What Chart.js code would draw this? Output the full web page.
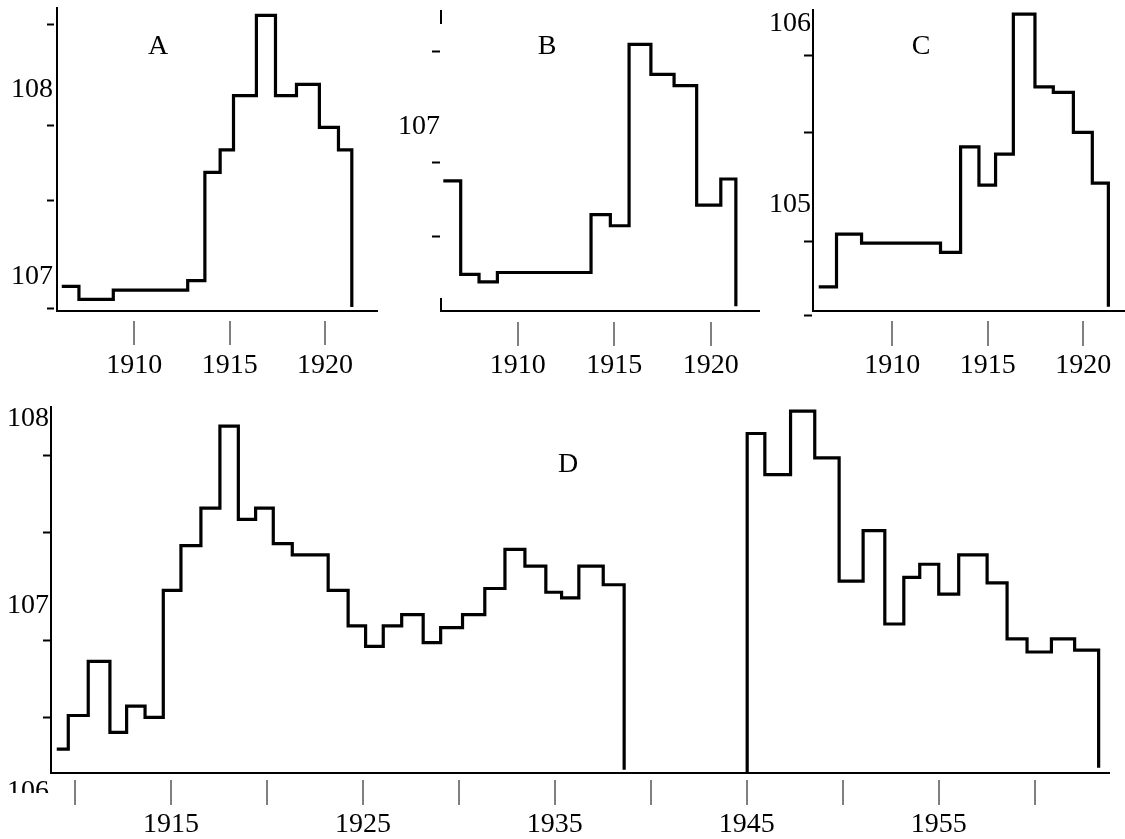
<!DOCTYPE html>
<html>
<head>
<meta charset="utf-8">
<script src="https://cdn.jsdelivr.net/npm/chart.js@4/dist/chart.umd.min.js"></script>
<style>
  body { margin: 0; background: #fff; }
  #wrap { position: relative; width: 1125px; height: 839px; overflow: hidden; }
  canvas { position: absolute; }
  .tag { position: absolute; font-family: 'Liberation Serif', 'Times New Roman', serif; font-size: 28px; line-height: 1; transform: translate(-50%, -50%); color: #000; }
</style>
</head>
<body>
<div id="wrap">
  <canvas id="chartA" width="380" height="395" style="left:0;top:0"></canvas>
  <canvas id="chartB" width="380" height="395" style="left:380px;top:0"></canvas>
  <canvas id="chartC" width="365" height="395" style="left:760px;top:0"></canvas>
  <canvas id="chartD" width="1125" height="444" style="left:0;top:395px"></canvas>
  <div class="tag" style="left:158px;top:45px">A</div>
  <div class="tag" style="left:547px;top:45px">B</div>
  <div class="tag" style="left:921px;top:45px">C</div>
  <div class="tag" style="left:568px;top:463px">D</div>
</div>
<script>
// step boundaries (years) and the level held between them
const aYears = [1906.2, 1907.1, 1908.9, 1912.8, 1913.7, 1914.5, 1915.2, 1916.4, 1917.4, 1918.5, 1919.7, 1920.7, 1921.4]
const aValues = [106.95, 106.88, 106.93, 106.98, 107.56, 107.68, 107.97, 108.40, 107.97, 108.03, 107.80, 107.68]
const aEnd = 106.84

const bYears = [1906.15, 1907.05, 1908.0, 1908.95, 1913.8, 1914.8, 1915.77, 1916.9, 1918.1, 1919.27, 1920.52, 1921.3]
const bValues = [106.71, 106.21, 106.17, 106.22, 106.53, 106.47, 107.44, 107.28, 107.22, 106.58, 106.72]
const bEnd = 106.04

const cYears = [1906.16, 1907.09, 1908.4, 1912.53, 1913.58, 1914.54, 1915.41, 1916.34, 1917.47, 1918.43, 1919.48, 1920.47, 1921.31]
const cValues = [104.55, 104.84, 104.79, 104.74, 105.32, 105.11, 105.28, 106.05, 105.65, 105.62, 105.40, 105.12]
const cEnd = 104.44

const dYears1 = [1909.05, 1909.65, 1910.69, 1911.82, 1912.69, 1913.65, 1914.6, 1915.52, 1916.56, 1917.55,
  1918.51, 1919.41, 1920.33, 1921.32, 1923.19, 1924.23, 1925.14, 1926.06, 1927.02, 1928.14,
  1929.05, 1930.19, 1931.35, 1932.4, 1933.44, 1934.53, 1935.35, 1936.25, 1937.52, 1938.61]
const dValues1 = [106.23, 106.41, 106.70, 106.32, 106.46, 106.40, 107.08, 107.32, 107.52, 107.96,
  107.46, 107.52, 107.33, 107.27, 107.08, 106.89, 106.78, 106.89, 106.95, 106.80,
  106.88, 106.95, 107.09, 107.30, 107.21, 107.07, 107.04, 107.21, 107.11]
const dEnd1 = 106.12

const dYears2 = [1945.02, 1945.94, 1947.28, 1948.54, 1949.81, 1951.06, 1952.19, 1953.18, 1954.01, 1955.0,
  1956.04, 1957.52, 1958.56, 1959.6, 1960.87, 1962.08, 1963.33]
const dValues2 = [107.92, 107.70, 108.04, 107.79, 107.13, 107.40, 106.90, 107.15, 107.22, 107.06,
  107.27, 107.12, 106.82, 106.75, 106.82, 106.76]
const dStart2 = 106.102
const dEnd2 = 106.13

// axis ticks
const topXTicks = [1910, 1915, 1920]
const dXTicks = [1910, 1915, 1920, 1925, 1930, 1935, 1940, 1945, 1950, 1955, 1960]
const dXLabels = [1915, 1925, 1935, 1945, 1955]

const aYTicks = [106.83, 107.41, 107.81, 108.35]
const aYLabels = [107, 108]
const bYTicks = [106.41, 106.81, 107.40]
const bYLabels = [107]
const cYTicks = [104.39, 104.80, 105.40, 105.82]
const cYLabels = [105, 106]
const dYTicks = [106.40, 106.81, 107.39, 107.80]
const dYLabels = [106, 107, 108]

Chart.defaults.font.family = "'Liberation Serif', 'Times New Roman', serif"
Chart.defaults.font.size = 28
Chart.defaults.color = "#000"

function stepPoints(years, values, end, start) {
  const pts = []
  if (start !== undefined) pts.push({x: years[0], y: start})
  values.forEach((v, i) => pts.push({x: years[i], y: v}))
  pts.push({x: years[years.length - 1], y: end})
  return pts
}

function line(points) {
  return {
    data: points,
    borderColor: "#000",
    borderWidth: 3.2,
    pointRadius: 0,
    fill: false,
    stepped: "before",
    borderJoinStyle: "miter"
  }
}

const clear = "rgba(0,0,0,0)"

function makeChart(id, p) {
  const yAll = [...p.yTicks, ...p.yLabels].sort((a, b) => a - b)
  const xAll = p.yBroken ? [p.xMin, ...p.xTicks] : p.xTicks
  return new Chart(document.getElementById(id), {
    type: "line",
    data: { datasets: p.series.map(line) },
    options: {
      responsive: false,
      animation: false,
      devicePixelRatio: 1,
      events: [],
      layout: { padding: { top: p.padTop, right: p.padRight, left: 0, bottom: 0 } },
      plugins: { legend: { display: false }, tooltip: { enabled: false } },
      scales: {
        x: {
          type: "linear",
          min: p.xMin,
          max: p.xMax,
          afterBuildTicks: s => { s.ticks = xAll.map(v => ({ value: v })) },
          afterFit: s => { s.height = p.xHeight },
          ticks: {
            autoSkip: false,
            maxRotation: 0,
            padding: p.xPad,
            font: { lineHeight: 1 },
            callback: v => p.xLabels.includes(v) ? String(v) : ""
          },
          grid: {
            // B has no full y axis, only a stub at each end: drawn as a dashed grid line at xMin
            drawOnChartArea: !!p.yBroken,
            color: ctx => (p.yBroken && ctx.tick && ctx.tick.value === p.xMin) ? "#000" : clear,
            lineWidth: 2,
            tickLength: p.xTickLen,
            tickWidth: 1,
            tickColor: ctx => (ctx.tick && ctx.tick.value === p.xMin) ? clear : "#000",
            tickBorderDash: p.xTickDash
          },
          border: { display: true, width: 2, color: "#000", dash: p.yBroken || [] }
        },
        y: {
          type: "linear",
          min: p.yMin,
          max: p.yMax,
          afterBuildTicks: s => { s.ticks = yAll.map(v => ({ value: v })) },
          afterFit: s => { s.width = p.yWidth },
          ticks: {
            autoSkip: false,
            padding: p.yPad,
            font: { lineHeight: 1 },
            callback: v => p.yLabels.includes(v) ? String(v) : ""
          },
          grid: {
            drawOnChartArea: false,
            tickLength: p.yTickLen,
            tickWidth: 2,
            tickColor: ctx => (ctx.tick && p.yLabels.includes(ctx.tick.value)) ? clear : "#000",
            tickBorderDash: p.yTickDash
          },
          border: { display: !p.yBroken, width: 2, color: "#000" }
        }
      }
    },
    plugins: p.plugins || []
  })
}

makeChart("chartA", {
  series: [stepPoints(aYears, aValues, aEnd)],
  xMin: 1905.95, xMax: 1922.72, yMin: 106.818, yMax: 108.439,
  xTicks: topXTicks, xLabels: topXTicks, yTicks: aYTicks, yLabels: aYLabels,
  yWidth: 57, xHeight: 84, padTop: 8, padRight: 3,
  yTickLen: 10, yTickDash: [7, 100], yPad: -6,
  xTickLen: 34, xTickDash: [0, 9, 24, 200], xPad: 7
})

makeChart("chartB", {
  series: [stepPoints(bYears, bValues, bEnd)],
  xMin: 1906.03, xMax: 1922.55, yMin: 106.014, yMax: 107.624,
  xTicks: topXTicks, xLabels: topXTicks, yTicks: bYTicks, yLabels: bYLabels,
  yWidth: 61, xHeight: 84, padTop: 10, padRight: 0,
  yTickLen: 9, yTickDash: [8, 100], yPad: -8,
  xTickLen: 35, xTickDash: [0, 10, 25, 200], xPad: 6,
  yBroken: [14, 274]
})

makeChart("chartC", {
  series: [stepPoints(cYears, cValues, cEnd)],
  xMin: 1905.86, xMax: 1922.18, yMin: 104.417, yMax: 106.073,
  xTicks: topXTicks, xLabels: topXTicks, yTicks: cYTicks, yLabels: cYLabels,
  yWidth: 53, xHeight: 84, padTop: 10, padRight: 0,
  yTickLen: 9, yTickDash: [8, 100], yPad: -7,
  xTickLen: 35, xTickDash: [0, 9, 25, 200], xPad: 6
})

// the lowest label of D is cut off just under the axis in the original
const cutLabel = {
  id: "cutLabel",
  afterDraw(chart) {
    const ctx = chart.ctx
    const area = chart.chartArea
    ctx.save()
    ctx.fillStyle = "#fff"
    ctx.fillRect(0, area.bottom + 20, area.left - 3, chart.height - area.bottom)
    ctx.restore()
  }
}

makeChart("chartD", {
  series: [stepPoints(dYears1, dValues1, dEnd1), stepPoints(dYears2, dValues2, dEnd2, dStart2)],
  xMin: 1908.75, xMax: 1963.87, yMin: 106.102, yMax: 108.062,
  xTicks: dXTicks, xLabels: dXLabels, yTicks: dYTicks, yLabels: dYLabels,
  yWidth: 51, xHeight: 66, padTop: 12, padRight: 16,
  yTickLen: 8, yTickDash: [7, 100], yPad: -6,
  xTickLen: 32, xTickDash: [0, 6, 25, 200], xPad: 6,
  plugins: [cutLabel]
})
</script>
</body>
</html>
